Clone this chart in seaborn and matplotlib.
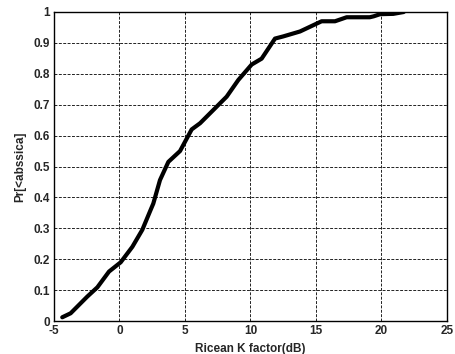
import matplotlib
matplotlib.use("Agg")
import matplotlib.pyplot as plt
import matplotlib.ticker as mticker
import seaborn as sns
import pandas as pd

k_factor_db = [-4.37, -3.73, -2.46, -1.69, -0.80, 0.09, 0.98, 1.74, 2.38, 2.58,
               3.09, 3.73, 4.62, 5.51, 6.15, 8.18, 9.07, 10.09, 10.85, 11.87,
               12.5, 13.78, 15.43, 16.45, 17.34, 19.1, 19.4, 19.9, 20.9, 21.7]
cdf = [0.012, 0.025, 0.079, 0.109, 0.16, 0.19, 0.24, 0.295, 0.36, 0.38,
       0.456, 0.515, 0.55, 0.62, 0.64, 0.726, 0.78, 0.83, 0.849, 0.914,
       0.921, 0.937, 0.97, 0.97, 0.983, 0.983, 0.986, 0.993, 0.994, 1.0]
x_ticks = [-5, 0, 5, 10, 15, 20, 25]
y_ticks = [0, 0.1, 0.2, 0.3, 0.4, 0.5, 0.6, 0.7, 0.8, 0.9, 1]

df = pd.DataFrame({"k": k_factor_db, "p": cdf})

sns.set_style("white")
plt.rcParams["font.family"] = ["Liberation Sans", "DejaVu Sans"]
plt.rcParams["axes.unicode_minus"] = False

fig = plt.figure(figsize=(4.56, 3.54), dpi=100)
ax = fig.add_axes([54/456, 33/354, (447-54)/456, (321-12)/354])

sns.lineplot(data=df, x="k", y="p", ax=ax, color="black", linewidth=3.0,
             sort=False, estimator=None)

ax.set_xlim(-5, 25)
ax.set_ylim(0, 1)
ax.set_xticks(x_ticks)
ax.set_yticks(y_ticks)
ax.yaxis.set_major_formatter(mticker.FormatStrFormatter("%g"))
ax.xaxis.set_major_formatter(mticker.FormatStrFormatter("%g"))
ax.grid(True, color="#222222", linestyle=(0, (3, 1.5)), linewidth=0.7)
for s in ax.spines.values():
    s.set_color("black")
    s.set_linewidth(1.0)
ax.tick_params(direction="in", length=3, width=0.8, labelsize=8.5, pad=3,
               top=False, right=False)
for lbl in ax.get_xticklabels() + ax.get_yticklabels():
    lbl.set_fontweight("bold")
ax.set_xlabel("Ricean K factor(dB)", fontsize=8.5, fontweight="bold", labelpad=4)
ax.set_ylabel("Pr[<abssica]", fontsize=8.5, fontweight="bold", labelpad=5)

fig.savefig("out.png", dpi=100)
